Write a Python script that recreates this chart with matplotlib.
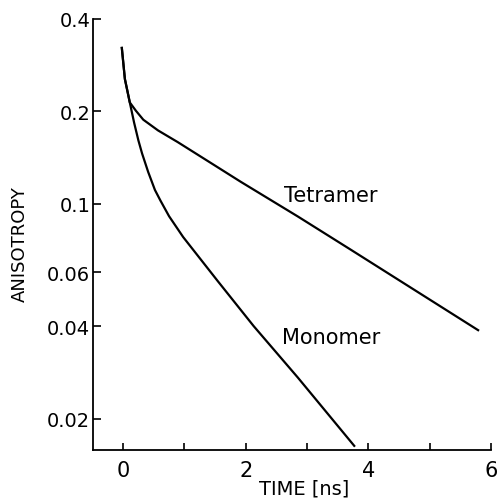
import matplotlib

matplotlib.use("Agg")
import matplotlib.pyplot as plt
from matplotlib.ticker import FixedLocator, NullFormatter, NullLocator

# time [ns] and anisotropy values
tetramer_time = [-0.02, 0.03, 0.11, 0.21, 0.33, 0.57, 0.89, 1.43, 1.92, 2.85, 3.72, 5.79]
tetramer_r = [0.322, 0.255, 0.214, 0.201, 0.188, 0.1735, 0.159, 0.136, 0.118, 0.091,
              0.0708, 0.0388]

monomer_time = [-0.02, 0.03, 0.11, 0.18, 0.25, 0.31, 0.41, 0.52, 0.61, 0.75, 0.98, 1.54,
                2.13, 2.85, 3.77]
monomer_r = [0.322, 0.255, 0.214, 0.184, 0.161, 0.146, 0.127, 0.111, 0.1025, 0.0912,
             0.0780, 0.0562, 0.0400, 0.0272, 0.0163]

y_ticks = [0.02, 0.04, 0.06, 0.1, 0.2, 0.4]
y_tick_labels = ["0.02", "0.04", "0.06", "0.1", "0.2", "0.4"]
x_ticks = [0, 2, 4, 6]
x_minor_ticks = [1, 3, 5]

plt.rcParams["font.family"] = ["DejaVu Sans"]

fig = plt.figure(figsize=(4.97, 5.02), dpi=100)
ax = fig.add_axes([93 / 497, 1 - 451 / 502, 398 / 497, 431 / 502])

ax.plot(tetramer_time, tetramer_r, color="black", lw=1.6)
ax.plot(monomer_time, monomer_r, color="black", lw=1.6)

ax.set_yscale("log")
ax.set_xlim(-0.49, 6.0)
ax.set_ylim(0.0158, 0.4)

ax.yaxis.set_major_locator(FixedLocator(y_ticks))
ax.set_yticklabels(y_tick_labels)
ax.yaxis.set_minor_locator(NullLocator())
ax.yaxis.set_minor_formatter(NullFormatter())
ax.set_xticks(x_ticks)
ax.set_xticks(x_minor_ticks, minor=True)

ax.tick_params(axis="y", which="both", direction="in", length=6, width=1.2,
               pad=2, labelsize=14)
ax.tick_params(axis="x", which="both", direction="in", length=5, width=1.2,
               pad=7, labelsize=15)

for side in ["top", "right"]:
    ax.spines[side].set_visible(False)
for side in ["left", "bottom"]:
    ax.spines[side].set_linewidth(1.3)

ax.set_xlabel("TIME [ns]", fontsize=14)
ax.xaxis.set_label_coords(0.53, -0.065)
ax.set_ylabel("ANISOTROPY", fontsize=13)
ax.yaxis.set_label_coords(-0.16, 0.48)

ax.text(2.62, 0.107, "Tetramer", fontsize=15, ha="left", va="center")
ax.text(2.6, 0.037, "Monomer", fontsize=15, ha="left", va="center")

fig.savefig("out.png", dpi=100)
